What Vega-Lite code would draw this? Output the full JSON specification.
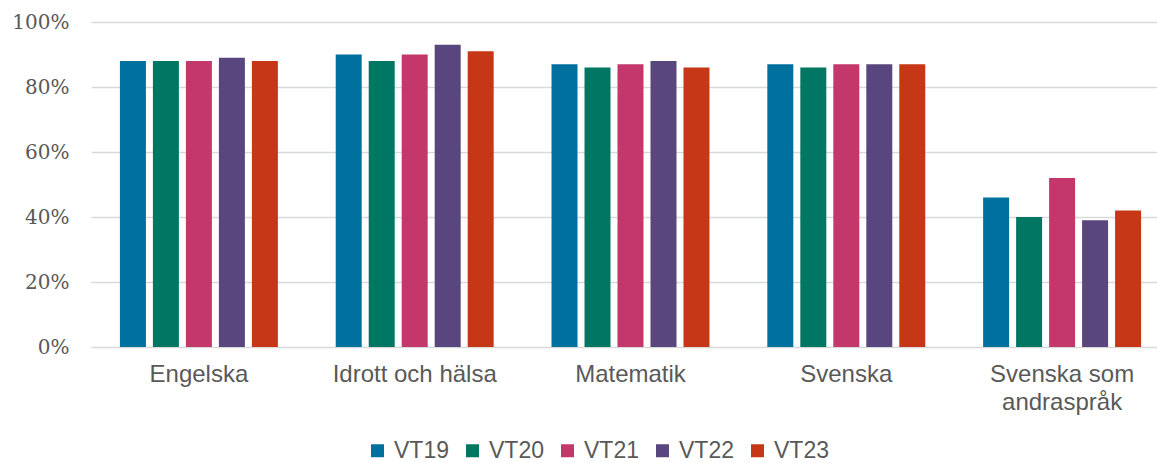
{
  "$schema": "https://vega.github.io/schema/vega-lite/v6.json",
  "autosize": "none",
  "width": 1066,
  "height": 325,
  "padding": {"left": 91, "top": 22, "right": 0, "bottom": 116},
  "background": "#ffffff",
  "config": {
    "view": {"stroke": null},
    "axis": {"labelColor": "#595959", "ticks": false, "domain": false, "title": null}
  },
  "data": {
    "values": [
      {"amne": "Engelska", "period": "VT19", "andel": 88},
      {"amne": "Engelska", "period": "VT20", "andel": 88},
      {"amne": "Engelska", "period": "VT21", "andel": 88},
      {"amne": "Engelska", "period": "VT22", "andel": 89},
      {"amne": "Engelska", "period": "VT23", "andel": 88},
      {"amne": "Idrott och hälsa", "period": "VT19", "andel": 90},
      {"amne": "Idrott och hälsa", "period": "VT20", "andel": 88},
      {"amne": "Idrott och hälsa", "period": "VT21", "andel": 90},
      {"amne": "Idrott och hälsa", "period": "VT22", "andel": 93},
      {"amne": "Idrott och hälsa", "period": "VT23", "andel": 91},
      {"amne": "Matematik", "period": "VT19", "andel": 87},
      {"amne": "Matematik", "period": "VT20", "andel": 86},
      {"amne": "Matematik", "period": "VT21", "andel": 87},
      {"amne": "Matematik", "period": "VT22", "andel": 88},
      {"amne": "Matematik", "period": "VT23", "andel": 86},
      {"amne": "Svenska", "period": "VT19", "andel": 87},
      {"amne": "Svenska", "period": "VT20", "andel": 86},
      {"amne": "Svenska", "period": "VT21", "andel": 87},
      {"amne": "Svenska", "period": "VT22", "andel": 87},
      {"amne": "Svenska", "period": "VT23", "andel": 87},
      {"amne": "Svenska som andraspråk", "period": "VT19", "andel": 46},
      {"amne": "Svenska som andraspråk", "period": "VT20", "andel": 40},
      {"amne": "Svenska som andraspråk", "period": "VT21", "andel": 52},
      {"amne": "Svenska som andraspråk", "period": "VT22", "andel": 39},
      {"amne": "Svenska som andraspråk", "period": "VT23", "andel": 42}
    ]
  },
  "mark": {"type": "bar"},
  "encoding": {
    "x": {
      "field": "amne",
      "type": "nominal",
      "sort": null,
      "scale": {"range": [0, 1079], "paddingInner": 0.268, "paddingOuter": 0.134},
      "axis": {
        "labelAngle": 0,
        "labelFont": "Liberation Sans",
        "labelFontSize": 24,
        "labelPadding": 15,
        "labelLineHeight": 28,
        "labelLimit": 300,
        "labelExpr": "datum.value == 'Svenska som andraspråk' ? ['Svenska som', 'andraspråk'] : datum.value"
      }
    },
    "xOffset": {
      "field": "period",
      "type": "nominal",
      "scale": {"paddingInner": 0.212, "paddingOuter": 0}
    },
    "y": {
      "field": "andel",
      "type": "quantitative",
      "scale": {"domain": [0, 100], "nice": false},
      "axis": {
        "values": [0, 20, 40, 60, 80, 100],
        "labelExpr": "datum.value + '%'",
        "labelFont": "DejaVu Serif",
        "labelFontSize": 20,
        "labelPadding": 22,
        "gridColor": "#d9d9d9",
        "gridWidth": 1.5
      }
    },
    "color": {
      "field": "period",
      "type": "nominal",
      "scale": {
        "domain": ["VT19", "VT20", "VT21", "VT22", "VT23"],
        "range": ["#00709e", "#007762", "#c3376b", "#5a467e", "#c53716"]
      },
      "legend": {
        "title": null,
        "orient": "none",
        "direction": "horizontal",
        "legendX": 275,
        "legendY": 417,
        "symbolType": "square",
        "symbolSize": 169,
        "symbolStrokeWidth": 0,
        "labelFont": "Liberation Sans",
        "labelFontSize": 23,
        "labelColor": "#595959",
        "labelOffset": 5,
        "columnPadding": 12
      }
    }
  }
}
